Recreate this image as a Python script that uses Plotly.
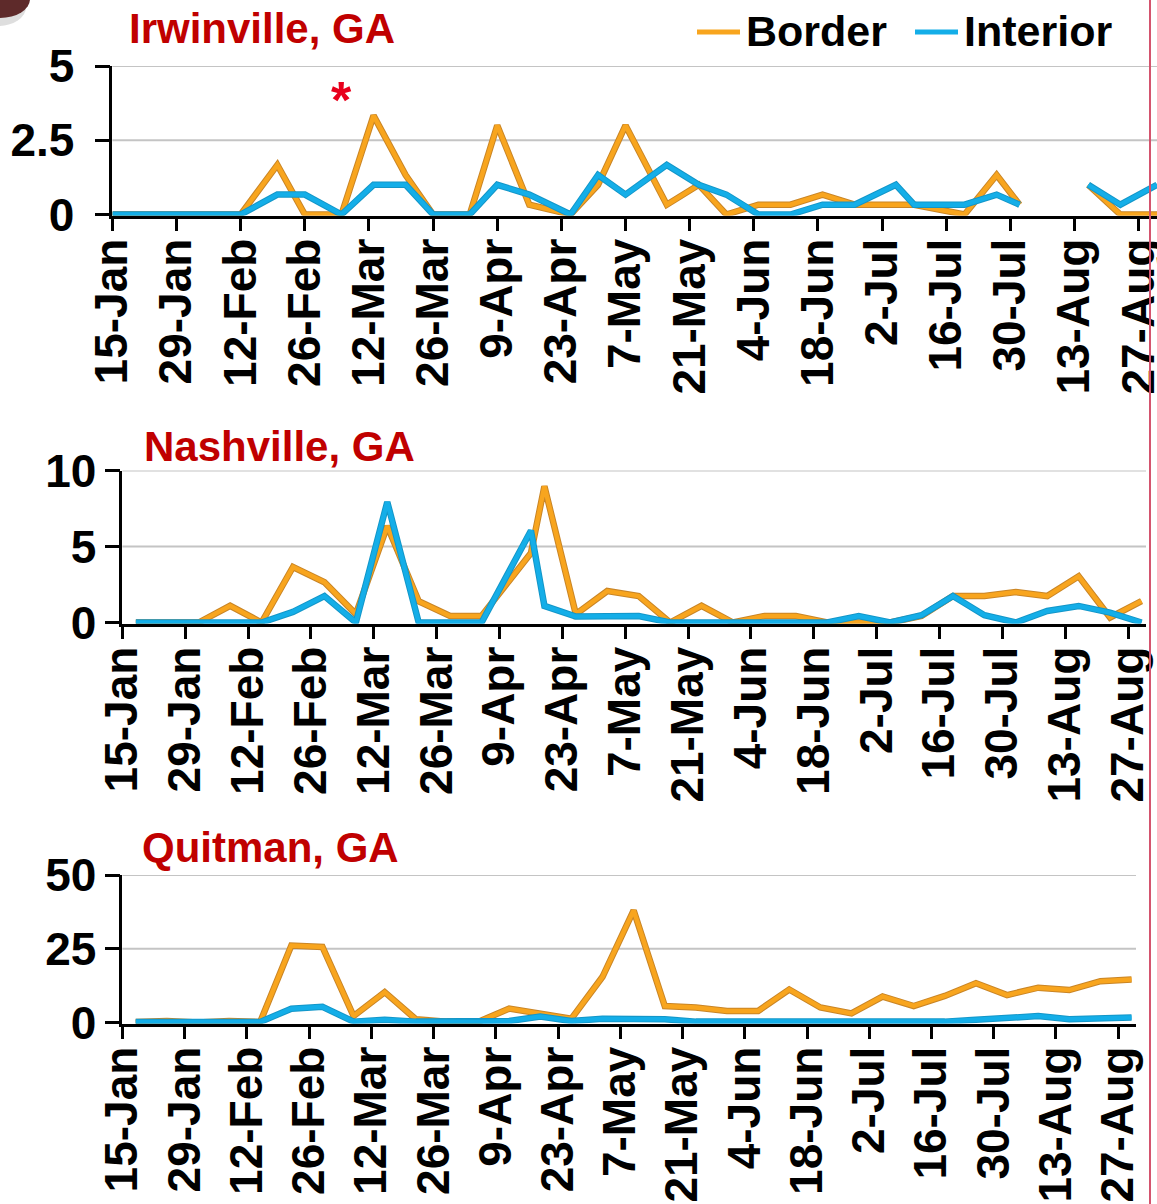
import plotly.graph_objects as go

W, H = 1157, 1204

# ---- shared axis ticks -------------------------------------------------
tick_dates = ["2013-01-15", "2013-01-29", "2013-02-12", "2013-02-26", "2013-03-12",
              "2013-03-26", "2013-04-09", "2013-04-23", "2013-05-07", "2013-05-21",
              "2013-06-04", "2013-06-18", "2013-07-02", "2013-07-16", "2013-07-30",
              "2013-08-13", "2013-08-27"]
tick_labels = ["15-Jan", "29-Jan", "12-Feb", "26-Feb", "12-Mar", "26-Mar", "9-Apr",
               "23-Apr", "7-May", "21-May", "4-Jun", "18-Jun", "2-Jul", "16-Jul",
               "30-Jul", "13-Aug", "27-Aug"]
x_range = ["2013-01-15", "2013-08-31"]

series_names = ["Border", "Interior"]

# ---- Irwinville, GA ----------------------------------------------------
irwin_dates = ["2013-01-15", "2013-01-22", "2013-01-29", "2013-02-05", "2013-02-12",
               "2013-02-20", "2013-02-26", "2013-03-06", "2013-03-13", "2013-03-20",
               "2013-03-26", "2013-04-03", "2013-04-09", "2013-04-16", "2013-04-25",
               "2013-05-01", "2013-05-07", "2013-05-16", "2013-05-23", "2013-05-29",
               "2013-06-05", "2013-06-12", "2013-06-19", "2013-06-26", "2013-07-05",
               "2013-07-09", "2013-07-20", "2013-07-27", "2013-08-01", "2013-08-09",
               "2013-08-16", "2013-08-23", "2013-08-31"]
irwin_border = [0, 0, 0, 0, 0, 1.67, 0, 0, 3.33, 1.33, 0, 0, 3.0, 0.33, 0, 1.0, 3.0,
                0.33, 1.0, 0, 0.33, 0.33, 0.67, 0.33, 0.33, 0.33, 0, 1.33, 0.33, None,
                1.0, 0, 0]
irwin_interior = [0, 0, 0, 0, 0, 0.67, 0.67, 0, 1.0, 1.0, 0, 0, 1.0, 0.67, 0, 1.33,
                  0.67, 1.67, 1.0, 0.67, 0, 0, 0.33, 0.33, 1.0, 0.33, 0.33, 0.67, 0.33,
                  None, 1.0, 0.33, 1.0]
irwin_yticks = [0, 2.5, 5]
irwin_ylabels = ["0", "2.5", "5"]
irwin_note_date = "2013-03-06"   # sample flagged with an asterisk

# ---- Nashville, GA -----------------------------------------------------
nash_dates = ["2013-01-18", "2013-01-25", "2013-02-01", "2013-02-08", "2013-02-15",
              "2013-02-22", "2013-03-01", "2013-03-08", "2013-03-15", "2013-03-22",
              "2013-03-29", "2013-04-05", "2013-04-16", "2013-04-19", "2013-04-26",
              "2013-05-03", "2013-05-10", "2013-05-17", "2013-05-24", "2013-05-31",
              "2013-06-07", "2013-06-14", "2013-06-21", "2013-06-28", "2013-07-05",
              "2013-07-12", "2013-07-19", "2013-07-26", "2013-08-02", "2013-08-09",
              "2013-08-16", "2013-08-23", "2013-08-30"]
nash_border = [0, 0, 0, 1.1, 0, 3.65, 2.65, 0.55, 6.35, 1.4, 0.43, 0.43, 4.57, 8.96,
               0.55, 2.07, 1.74, 0, 1.1, 0, 0.43, 0.43, 0, 0, 0, 0.43, 1.74, 1.74, 2.0,
               1.74, 3.04, 0.33, 1.41]
nash_interior = [0, 0, 0, 0, 0, 0.7, 1.74, 0, 7.93, 0, 0, 0, 6.04, 1.09, 0.39, 0.43,
                 0.43, 0, 0, 0, 0, 0, 0, 0.43, 0, 0.48, 1.74, 0.48, 0, 0.76, 1.09, 0.65, 0]
nash_yticks = [0, 5, 10]
nash_ylabels = ["0", "5", "10"]

# ---- Quitman, GA -------------------------------------------------------
quit_dates = ["2013-01-18", "2013-01-25", "2013-02-01", "2013-02-08", "2013-02-15",
              "2013-02-22", "2013-03-01", "2013-03-08", "2013-03-15", "2013-03-22",
              "2013-03-29", "2013-04-05", "2013-04-12", "2013-04-19", "2013-04-26",
              "2013-05-03", "2013-05-10", "2013-05-17", "2013-05-24", "2013-05-31",
              "2013-06-07", "2013-06-14", "2013-06-21", "2013-06-28", "2013-07-05",
              "2013-07-12", "2013-07-19", "2013-07-26", "2013-08-02", "2013-08-09",
              "2013-08-16", "2013-08-23", "2013-08-30"]
quit_border = [0.2, 0.5, 0, 0.5, 0.2, 26.1, 25.6, 2.2, 10.3, 1.1, 0.3, 0.2, 4.7, 3.1,
               1.3, 15.5, 38.0, 5.6, 5.1, 3.9, 3.9, 11.2, 5.1, 3.1, 8.8, 5.6, 9.0, 13.3,
               9.3, 11.8, 11.0, 14.0, 14.6]
quit_interior = [0.2, 0.2, 0.2, 0.3, 0.2, 4.7, 5.3, 0.3, 0.9, 0.3, 0.2, 0.2, 0.5, 2.0,
                 0.5, 1.3, 1.1, 1.1, 0.3, 0.3, 0.5, 0.3, 0.3, 0.5, 0.5, 0.3, 0.3, 0.9,
                 1.7, 2.2, 1.1, 1.5, 1.7]
quit_yticks = [0, 25, 50]
quit_ylabels = ["0", "25", "50"]

# ---- styling -----------------------------------------------------------
FONT = "Liberation Sans"
ORANGE, ORANGE_RIM = "#F8A51E", "#C98526"
BLUE, BLUE_RIM = "#14AEE8", "#1396C8"
TITLE_RED = "#C00000"
GRID = "#C4C4C4"

# pixel geometry of each panel: (left, right, top, bottom), title anchor and
# the gap between y tick marks and their labels
panels = [
    dict(title="Irwinville, GA", dates=irwin_dates, border=irwin_border,
         interior=irwin_interior, yticks=irwin_yticks, ylabels=irwin_ylabels,
         box=(112.4, 1157, 66, 215.5), title_xy=(127, 29), ystand=11),
    dict(title="Nashville, GA", dates=nash_dates, border=nash_border,
         interior=nash_interior, yticks=nash_yticks, ylabels=nash_ylabels,
         box=(122.4, 1146, 470.5, 623.5), title_xy=(142, 447), ystand=-1),
    dict(title="Quitman, GA", dates=quit_dates, border=quit_border,
         interior=quit_interior, yticks=quit_yticks, ylabels=quit_ylabels,
         box=(122.4, 1136, 875, 1023.5), title_xy=(140, 847), ystand=-1),
]


def px_x(v):
    return v / W


def px_y(v):
    return 1 - v / H


fig = go.Figure()
shapes, annotations = [], []

for i, p in enumerate(panels, start=1):
    sfx = "" if i == 1 else str(i)
    xa, ya = "x" + sfx, "y" + sfx
    left, right, top, bottom = p["box"]
    ytop = p["yticks"][-1]
    pad = ytop * 1.0 / (bottom - top)

    for name, vals, col, rim in ((series_names[0], p["border"], ORANGE, ORANGE_RIM),
                                 (series_names[1], p["interior"], BLUE, BLUE_RIM)):
        fig.add_trace(go.Scatter(x=p["dates"], y=vals, mode="lines", xaxis=xa, yaxis=ya,
                                 line=dict(color=rim, width=6.5), showlegend=False,
                                 hoverinfo="skip"))
        fig.add_trace(go.Scatter(x=p["dates"], y=vals, mode="lines", name=name,
                                 xaxis=xa, yaxis=ya, line=dict(color=col, width=4.5),
                                 showlegend=False))

    fig.update_layout(**{
        "xaxis" + sfx: dict(
            type="date", range=x_range, domain=[px_x(left), px_x(right)], anchor=ya,
            tickmode="array", tickvals=tick_dates, ticktext=tick_labels, tickangle=-90,
            ticks="outside", ticklen=13, tickwidth=2.5, tickcolor="black",
            showline=True, linecolor="black", linewidth=2.5, showgrid=False,
            zeroline=False, layer="below traces", automargin=False,
            ticklabeloverflow="allow", ticklabelstandoff=-11,
            tickfont=dict(family=FONT, size=46, color="black", weight="bold"),
            fixedrange=True),
        "yaxis" + sfx: dict(
            range=[-pad, ytop], domain=[px_y(bottom), px_y(top)], anchor=xa,
            tickmode="array", tickvals=p["yticks"], ticktext=p["ylabels"],
            ticks="outside", ticklen=15, tickwidth=2.5, tickcolor="black",
            showline=True, linecolor="black", linewidth=2.5, showgrid=False,
            zeroline=False, layer="below traces", ticklabelstandoff=p["ystand"],
            automargin=False, ticklabeloverflow="allow",
            tickfont=dict(family=FONT, size=46, color="black", weight="bold"),
            fixedrange=True),
    })

    # horizontal gridlines at the non-zero ticks
    for yv in p["yticks"][1:]:
        shapes.append(dict(type="line", xref=xa + " domain", yref=ya, x0=0, x1=1,
                           y0=yv, y1=yv, line=dict(color=GRID, width=2), layer="below"))

    tx, ty = p["title_xy"]
    annotations.append(dict(text=p["title"], xref="paper", yref="paper", x=px_x(tx),
                            y=px_y(ty), xanchor="left", yanchor="middle",
                            showarrow=False,
                            font=dict(family=FONT, size=42, color=TITLE_RED,
                                      weight="bold")))

# asterisk above the flagged Irwinville sample
annotations.append(dict(text="*", xref="x", yref="paper", x=irwin_note_date,
                        y=px_y(100), xanchor="center", yanchor="middle",
                        showarrow=False,
                        font=dict(family=FONT, size=52, color="#E8001C", weight="bold")))

# legend drawn as line samples + labels
legend_items = [(series_names[0], ORANGE, 697, 740), (series_names[1], BLUE, 915, 958)]
for name, col, x0, x1 in legend_items:
    shapes.append(dict(type="line", xref="paper", yref="paper", x0=px_x(x0),
                       x1=px_x(x1), y0=px_y(32), y1=px_y(32),
                       line=dict(color=col, width=5)))
    annotations.append(dict(text=name, xref="paper", yref="paper", x=px_x(x1 + 4),
                            y=px_y(31), xanchor="left", yanchor="middle",
                            showarrow=False,
                            font=dict(family=FONT, size=43, color="black",
                                      weight="bold")))

# thin red frame edge on the right and the dark corner blob top-left
shapes.append(dict(type="line", xref="paper", yref="paper", x0=px_x(1150),
                   x1=px_x(1150), y0=0, y1=1, line=dict(color="#D4546E", width=2)))
shapes.append(dict(type="circle", xref="paper", yref="paper", x0=px_x(-30),
                   x1=px_x(26), y0=px_y(26), y1=px_y(-12),
                   fillcolor="rgba(200,200,200,0.6)", line=dict(width=0)))
shapes.append(dict(type="circle", xref="paper", yref="paper", x0=px_x(-30),
                   x1=px_x(30), y0=px_y(18), y1=px_y(-20),
                   fillcolor="#5E2A2A", line=dict(width=0)))

fig.update_layout(width=W, height=H, margin=dict(l=0, r=0, t=0, b=0),
                  paper_bgcolor="white", plot_bgcolor="white", showlegend=False,
                  shapes=shapes, annotations=annotations)

fig.write_html("out.html")
